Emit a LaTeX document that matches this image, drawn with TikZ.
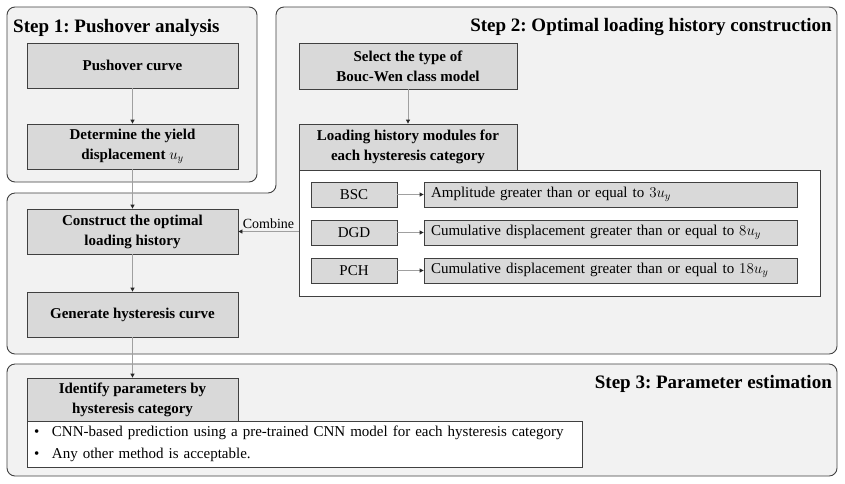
\RequirePackage{fix-cm}
\documentclass[tikz,border=0pt]{standalone}
\usepackage{fontspec}
\setmainfont{Liberation Serif}
\usetikzlibrary{arrows.meta}
\frenchspacing
\definecolor{outerfill}{HTML}{F2F2F2}
\definecolor{innerfill}{HTML}{D9D9D9}
\definecolor{edge}{HTML}{404040}
\definecolor{conn}{HTML}{A0A0A0}
\tikzset{
 stepframe/.style={draw=edge, fill=outerfill, line width=0.9pt, rounded corners=8pt},
 steptitle/.style={font=\fontsize{19}{22}\selectfont\bfseries, inner sep=0pt},
 graybox/.style={draw=edge, fill=innerfill, line width=0.8pt, align=center, font=\fontsize{15}{20}\selectfont\bfseries, inner sep=2pt},
 whitebox/.style={draw=edge, fill=white, line width=0.8pt},
 tagbox/.style={draw=edge, fill=innerfill, line width=0.8pt, font=\fontsize{15}{18}\selectfont, minimum width=86pt, minimum height=25pt, inner sep=0pt},
 rulebox/.style={draw=edge, fill=innerfill, line width=0.8pt, font=\fontsize{15}{18}\selectfont, minimum height=25pt, text width=359pt, inner xsep=7pt, inner ysep=0pt, align=left},
 arr/.style={draw=conn, line width=0.8pt, -{Triangle[length=4pt,width=4pt,color=black!85]}},
 lbl/.style={font=\fontsize{14}{16}\selectfont, inner sep=2pt},
}
\begin{document}
\begin{tikzpicture}[x=1pt,y=-1pt]
\useasboundingbox (0,0) rectangle (845,483);
\fill[white] (0,0) rectangle (845,483);
% step frames
\draw[stepframe] (7,7) rectangle (257,182);
\draw[stepframe] (556,7) -- (837,7) -- (837,354) -- (7,354) -- (7,193) -- (276,193) -- (276,7) -- cycle;
\draw[stepframe] (7,364) rectangle (837,476);
% titles
\node[steptitle, anchor=base west] (t1) at (13,32) {Step 1: Pushover analysis};
\node[steptitle, anchor=base east] (t2) at (832,31) {Step 2: Optimal loading history construction};
\node[steptitle, anchor=base east] (t3) at (832,388) {Step 3: Parameter estimation};
% left column
\node[graybox, minimum width=211pt, minimum height=45pt] (push) at (132.5,65.5) {Pushover curve};
\node[graybox, minimum width=211pt, minimum height=45pt] (det) at (132.5,146.5) {Determine the yield\\displacement $u_y$};
\node[graybox, minimum width=211pt, minimum height=45pt] (cons) at (132.5,231.5) {Construct the optimal\\loading history};
\node[graybox, minimum width=211pt, minimum height=45pt] (gen) at (132.5,314.5) {Generate hysteresis curve};
\node[graybox, minimum width=211pt, minimum height=43pt] (ident) at (132.5,399.5) {Identify parameters by\\hysteresis category};
\node[whitebox, minimum width=555pt, minimum height=46pt, text width=541pt, inner xsep=7pt, inner ysep=0pt, align=left, font=\fontsize{15}{22}\selectfont] (list) at (304.5,444)
 {\makebox[18pt][l]{\textbullet}CNN-based prediction using a pre-trained CNN model for each hysteresis category\\
  \makebox[18pt][l]{\textbullet}Any other method is acceptable.};
% step 2
\node[graybox, minimum width=218pt, minimum height=46pt] (sel) at (408,66) {Select the type of\\Bouc-Wen class model};
\node[whitebox, minimum width=521pt, minimum height=126pt] (mods) at (559.5,233) {};
\node[graybox, minimum width=218pt, minimum height=46pt] (load) at (408,147) {Loading history modules for\\each hysteresis category};
\node[tagbox] (bsc) at (354,194.5) {BSC};
\node[tagbox] (dgd) at (354,232.5) {DGD};
\node[tagbox] (pch) at (354,270.5) {PCH};
\node[rulebox] (amp) at (610.5,194.5) {Amplitude greater than or equal to $3u_y$};
\node[rulebox] (cum8) at (610.5,232.5) {Cumulative displacement greater than or equal to $8u_y$};
\node[rulebox] (cum18) at (610.5,270.5) {Cumulative displacement greater than or equal to $18u_y$};
% connectors
\draw[arr] (push) -- (det);
\draw[arr] (det) -- (cons);
\draw[arr] (cons) -- (gen);
\draw[arr] (gen) -- (ident);
\draw[arr] (sel) -- (load);
\draw[arr] (bsc) -- (amp);
\draw[arr] (dgd) -- (cum8);
\draw[arr] (pch) -- (cum18);
\draw[arr] (cons.east -| mods.west) -- node[lbl, above] {Combine} (cons.east);
\end{tikzpicture}
\end{document}
